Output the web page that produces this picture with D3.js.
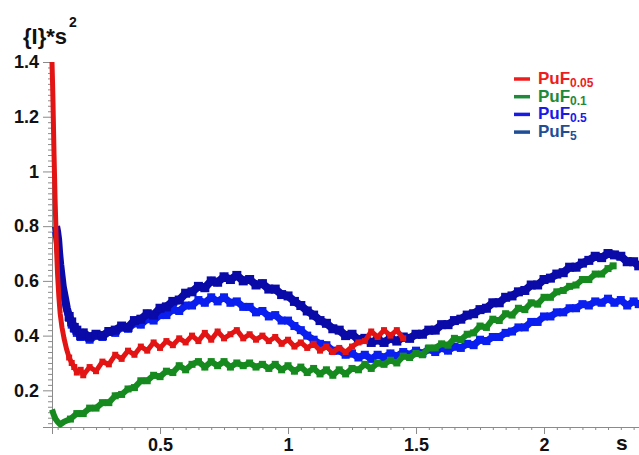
<!DOCTYPE html>
<html>
<head>
<meta charset="utf-8">
<script src="https://cdn.jsdelivr.net/npm/d3@7"></script>
<style>
  body { margin: 0; background: #fff; }
  text { font-family: "Liberation Sans", Arial, sans-serif; font-weight: bold; }
</style>
</head>
<body>
<div id="chart"></div>
<script>
// Series names (legend order)
var seriesNames = ["PuF", "PuF", "PuF", "PuF"];
var seriesSubs = ["0.05", "0.1", "0.5", "5"];

// Values: [s, {I}*s^2]
var puf005 = [[0.078,1.40],[0.080,1.33],[0.082,1.25],[0.084,1.15],[0.086,1.06],[0.088,0.98],[0.090,0.90],[0.093,0.80],[0.096,0.71],[0.100,0.62],[0.105,0.54],[0.110,0.48],[0.117,0.43],[0.125,0.39],[0.135,0.35],[0.145,0.32],[0.155,0.30],[0.165,0.285],[0.175,0.265],[0.19,0.275],
  [0.2,0.255],[0.225,0.285],[0.25,0.27],[0.275,0.305],[0.3,0.295],[0.325,0.33],[0.35,0.315],[0.375,0.345],[0.4,0.33],[0.425,0.36],[0.45,0.345],[0.475,0.375],[0.5,0.355],[0.525,0.38],[0.55,0.365],[0.575,0.39],[0.6,0.375],[0.625,0.40],[0.65,0.38],[0.675,0.41],[0.7,0.385],[0.725,0.415],[0.75,0.39],[0.775,0.405],[0.8,0.42],[0.825,0.39],[0.85,0.405],[0.875,0.385],[0.9,0.40],[0.925,0.38],[0.95,0.395],[0.975,0.37],[1.0,0.385],[1.025,0.36],[1.05,0.375],[1.075,0.355],[1.1,0.37],[1.125,0.345],[1.15,0.36],[1.175,0.34],[1.2,0.355],[1.225,0.34],[1.25,0.36],[1.275,0.375],[1.3,0.38],[1.325,0.415],[1.35,0.395],[1.375,0.42],[1.4,0.40],[1.425,0.42],[1.45,0.39]];

var puf01 = [[0.078,0.13],[0.085,0.11],[0.092,0.095],[0.1,0.085],[0.11,0.075],[0.125,0.085],[0.15,0.095],[0.175,0.115],[0.2,0.115],[0.225,0.135],[0.25,0.135],[0.275,0.155],[0.3,0.155],[0.325,0.18],[0.35,0.185],[0.375,0.205],[0.4,0.21],[0.425,0.235],[0.45,0.235],[0.475,0.255],[0.5,0.25],[0.525,0.27],[0.55,0.265],[0.575,0.29],[0.6,0.275],[0.625,0.295],[0.65,0.305],[0.675,0.285],[0.7,0.305],[0.725,0.29],[0.75,0.305],[0.775,0.285],[0.8,0.30],[0.825,0.29],[0.85,0.30],[0.875,0.285],[0.9,0.295],[0.925,0.28],[0.95,0.295],[0.975,0.275],[1.0,0.29],[1.025,0.27],[1.05,0.285],[1.075,0.265],[1.1,0.28],[1.125,0.26],[1.15,0.275],[1.175,0.255],[1.2,0.275],[1.225,0.26],[1.25,0.28],[1.275,0.275],[1.3,0.295],[1.325,0.28],[1.35,0.30],[1.375,0.295],[1.4,0.31],[1.425,0.30],[1.45,0.325],[1.475,0.32],[1.5,0.335],[1.525,0.33],[1.55,0.355],[1.575,0.355],[1.6,0.37],[1.625,0.365],[1.65,0.39],[1.675,0.385],[1.7,0.405],[1.725,0.41],[1.75,0.435],[1.775,0.43],[1.8,0.46],[1.825,0.455],[1.85,0.48],[1.875,0.475],[1.9,0.50],[1.925,0.495],[1.95,0.52],[1.975,0.515],[2.0,0.54],[2.025,0.54],[2.05,0.56],[2.075,0.565],[2.1,0.58],[2.125,0.585],[2.15,0.605],[2.175,0.605],[2.2,0.625],[2.225,0.625],[2.25,0.645],[2.27,0.655]];

var puf05 = [[0.092,0.78],[0.096,0.76],[0.1,0.73],[0.105,0.68],[0.11,0.64],[0.115,0.60],[0.12,0.57],[0.128,0.53],[0.136,0.49],[0.145,0.465],[0.155,0.44],[0.165,0.425],[0.175,0.41],[0.19,0.395],[0.2,0.40],[0.225,0.385],[0.25,0.40],[0.275,0.395],[0.3,0.415],[0.325,0.41],[0.35,0.43],[0.375,0.425],[0.4,0.445],[0.425,0.44],[0.45,0.46],[0.475,0.455],[0.5,0.475],[0.525,0.475],[0.55,0.495],[0.575,0.49],[0.6,0.51],[0.625,0.51],[0.65,0.53],[0.675,0.52],[0.7,0.54],[0.725,0.525],[0.75,0.54],[0.775,0.52],[0.8,0.525],[0.825,0.505],[0.85,0.505],[0.875,0.485],[0.9,0.49],[0.925,0.47],[0.95,0.475],[0.975,0.455],[1.0,0.455],[1.025,0.435],[1.05,0.42],[1.075,0.40],[1.1,0.385],[1.125,0.37],[1.15,0.365],[1.175,0.345],[1.2,0.345],[1.225,0.33],[1.25,0.335],[1.275,0.32],[1.3,0.33],[1.325,0.315],[1.35,0.33],[1.375,0.32],[1.4,0.335],[1.425,0.325],[1.45,0.34],[1.475,0.33],[1.5,0.345],[1.525,0.335],[1.55,0.35],[1.575,0.34],[1.6,0.355],[1.625,0.345],[1.65,0.36],[1.675,0.355],[1.7,0.37],[1.725,0.365],[1.75,0.385],[1.775,0.38],[1.8,0.395],[1.825,0.395],[1.85,0.41],[1.875,0.415],[1.9,0.43],[1.925,0.43],[1.95,0.45],[1.975,0.45],[2.0,0.47],[2.025,0.47],[2.05,0.485],[2.075,0.485],[2.1,0.50],[2.125,0.50],[2.15,0.515],[2.175,0.51],[2.2,0.525],[2.225,0.52],[2.25,0.535],[2.275,0.52],[2.3,0.53],[2.325,0.51],[2.35,0.525],[2.37,0.515]];

var puf5 = [[0.094,0.80],[0.098,0.78],[0.102,0.75],[0.106,0.70],[0.11,0.66],[0.115,0.62],[0.12,0.58],[0.128,0.54],[0.136,0.50],[0.145,0.47],[0.155,0.45],[0.165,0.43],[0.175,0.42],[0.19,0.40],[0.2,0.41],[0.225,0.395],[0.25,0.405],[0.275,0.40],[0.3,0.415],[0.325,0.42],[0.35,0.435],[0.375,0.43],[0.4,0.455],[0.425,0.46],[0.45,0.48],[0.475,0.475],[0.5,0.50],[0.525,0.505],[0.55,0.525],[0.575,0.53],[0.6,0.555],[0.625,0.56],[0.65,0.58],[0.675,0.575],[0.7,0.60],[0.725,0.595],[0.75,0.615],[0.775,0.605],[0.8,0.62],[0.825,0.60],[0.85,0.605],[0.875,0.585],[0.9,0.59],[0.925,0.57],[0.95,0.57],[0.975,0.55],[1.0,0.545],[1.025,0.525],[1.05,0.51],[1.075,0.49],[1.1,0.475],[1.125,0.455],[1.15,0.445],[1.175,0.425],[1.2,0.42],[1.225,0.40],[1.25,0.405],[1.275,0.385],[1.3,0.39],[1.325,0.375],[1.35,0.385],[1.375,0.375],[1.4,0.39],[1.425,0.38],[1.45,0.395],[1.475,0.39],[1.5,0.405],[1.525,0.405],[1.55,0.42],[1.575,0.42],[1.6,0.44],[1.625,0.44],[1.65,0.455],[1.675,0.46],[1.7,0.475],[1.725,0.48],[1.75,0.495],[1.775,0.50],[1.8,0.52],[1.825,0.52],[1.85,0.54],[1.875,0.545],[1.9,0.56],[1.925,0.565],[1.95,0.585],[1.975,0.585],[2.0,0.605],[2.025,0.61],[2.05,0.625],[2.075,0.63],[2.1,0.65],[2.125,0.65],[2.15,0.665],[2.175,0.675],[2.2,0.69],[2.225,0.685],[2.25,0.70],[2.275,0.695],[2.3,0.69],[2.325,0.67],[2.35,0.67],[2.37,0.655]];

// Tick labels
var xTickLabels = [0.5, 1, 1.5, 2];
var yTickLabels = [0.2, 0.4, 0.6, 0.8, 1, 1.2, 1.4];

// Styles
var lineColors = ["#e31414", "#178a1f", "#0a1ef0", "#0a0aa8"];
var legendColors = ["#ee1c1c", "#1e8a3a", "#1a1ae6", "#1f4e96"];
var lineWidths = [5, 6, 7, 8];

var allSeries = [puf005, puf01, puf05, puf5];
var drawOrder = [2, 3, 1, 0];

var width = 639, height = 455;
var svg = d3.select("#chart").append("svg")
    .attr("width", width)
    .attr("height", height);

// Scales
var x = d3.scaleLinear().domain([0.078, 2.371]).range([52, 639]);
var y = d3.scaleLinear().domain([0.066, 1.4]).range([427, 62]);

// Minor ticks
var yMinor = d3.range(4, 71).map(d => d / 50).filter(d => yTickLabels.indexOf(d) < 0);
var xMinor = d3.range(2, 48).map(d => d / 20).filter(d => xTickLabels.indexOf(d) < 0);

// Y axis
var yAxisMinor = svg.append("g")
    .attr("transform", "translate(52,0)")
    .call(d3.axisLeft(y).tickValues(yMinor).tickSize(4).tickFormat(""));
var yAxis = svg.append("g")
    .attr("transform", "translate(52,0)")
    .call(d3.axisLeft(y).tickValues(yTickLabels).tickSize(9).tickPadding(4)
        .tickFormat(d3.format("~g")));

// X axis
var xAxisMinor = svg.append("g")
    .attr("transform", "translate(0,427)")
    .call(d3.axisBottom(x).tickValues(xMinor).tickSize(3).tickFormat(""));
var xAxis = svg.append("g")
    .attr("transform", "translate(0,427)")
    .call(d3.axisBottom(x).tickValues(xTickLabels).tickSize(7).tickPadding(4)
        .tickFormat(d3.format("~g")));

[yAxisMinor, yAxis, xAxisMinor, xAxis].forEach(function(a) {
    a.selectAll("path, line").attr("stroke", "#8a8a8a");
    a.selectAll("text")
        .attr("fill", "#111")
        .style("font-size", "18px")
        .style("font-weight", "bold");
});

// Curves
var line = d3.line()
    .x(d => x(d[0]))
    .y(d => y(d[1]));

drawOrder.forEach(function(i) {
    svg.append("path")
        .datum(allSeries[i])
        .attr("fill", "none")
        .attr("stroke", lineColors[i])
        .attr("stroke-width", lineWidths[i])
        .attr("stroke-linejoin", "round")
        .attr("d", line);

    var m = lineWidths[i] + 1;
    svg.append("g").selectAll("rect")
        .data(allSeries[i].filter(d => d[0] > 0.14))
        .enter()
        .append("rect")
        .attr("x", d => x(d[0]) - m / 2)
        .attr("y", d => y(d[1]) - m / 2)
        .attr("width", m)
        .attr("height", m)
        .attr("fill", lineColors[i]);
});

// Y title {I}*s^2
var yTitle = svg.append("text")
    .attr("x", 23)
    .attr("y", 44)
    .style("font-size", "22px")
    .attr("fill", "#111")
    .text("{I}*s");
yTitle.append("tspan")
    .attr("dy", -17)
    .attr("dx", 2)
    .style("font-size", "14px")
    .text("2");

// X title
svg.append("text")
    .attr("x", 616)
    .attr("y", 450)
    .style("font-size", "21px")
    .attr("fill", "#111")
    .text("s");

// Legend
var legend = svg.append("g")
    .attr("transform", "translate(514,0)");

seriesNames.forEach(function(name, i) {
    var yy = 84 + i * 17.7;
    legend.append("line")
        .attr("x1", 0)
        .attr("x2", 16)
        .attr("y1", yy - 5)
        .attr("y2", yy - 5)
        .attr("stroke", legendColors[i])
        .attr("stroke-width", 3.5);
    var t = legend.append("text")
        .attr("x", 24)
        .attr("y", yy)
        .attr("fill", legendColors[i])
        .style("font-size", "17px")
        .text(name);
    t.append("tspan")
        .attr("dy", 3)
        .style("font-size", "12px")
        .text(seriesSubs[i]);
});
</script>
</body>
</html>
